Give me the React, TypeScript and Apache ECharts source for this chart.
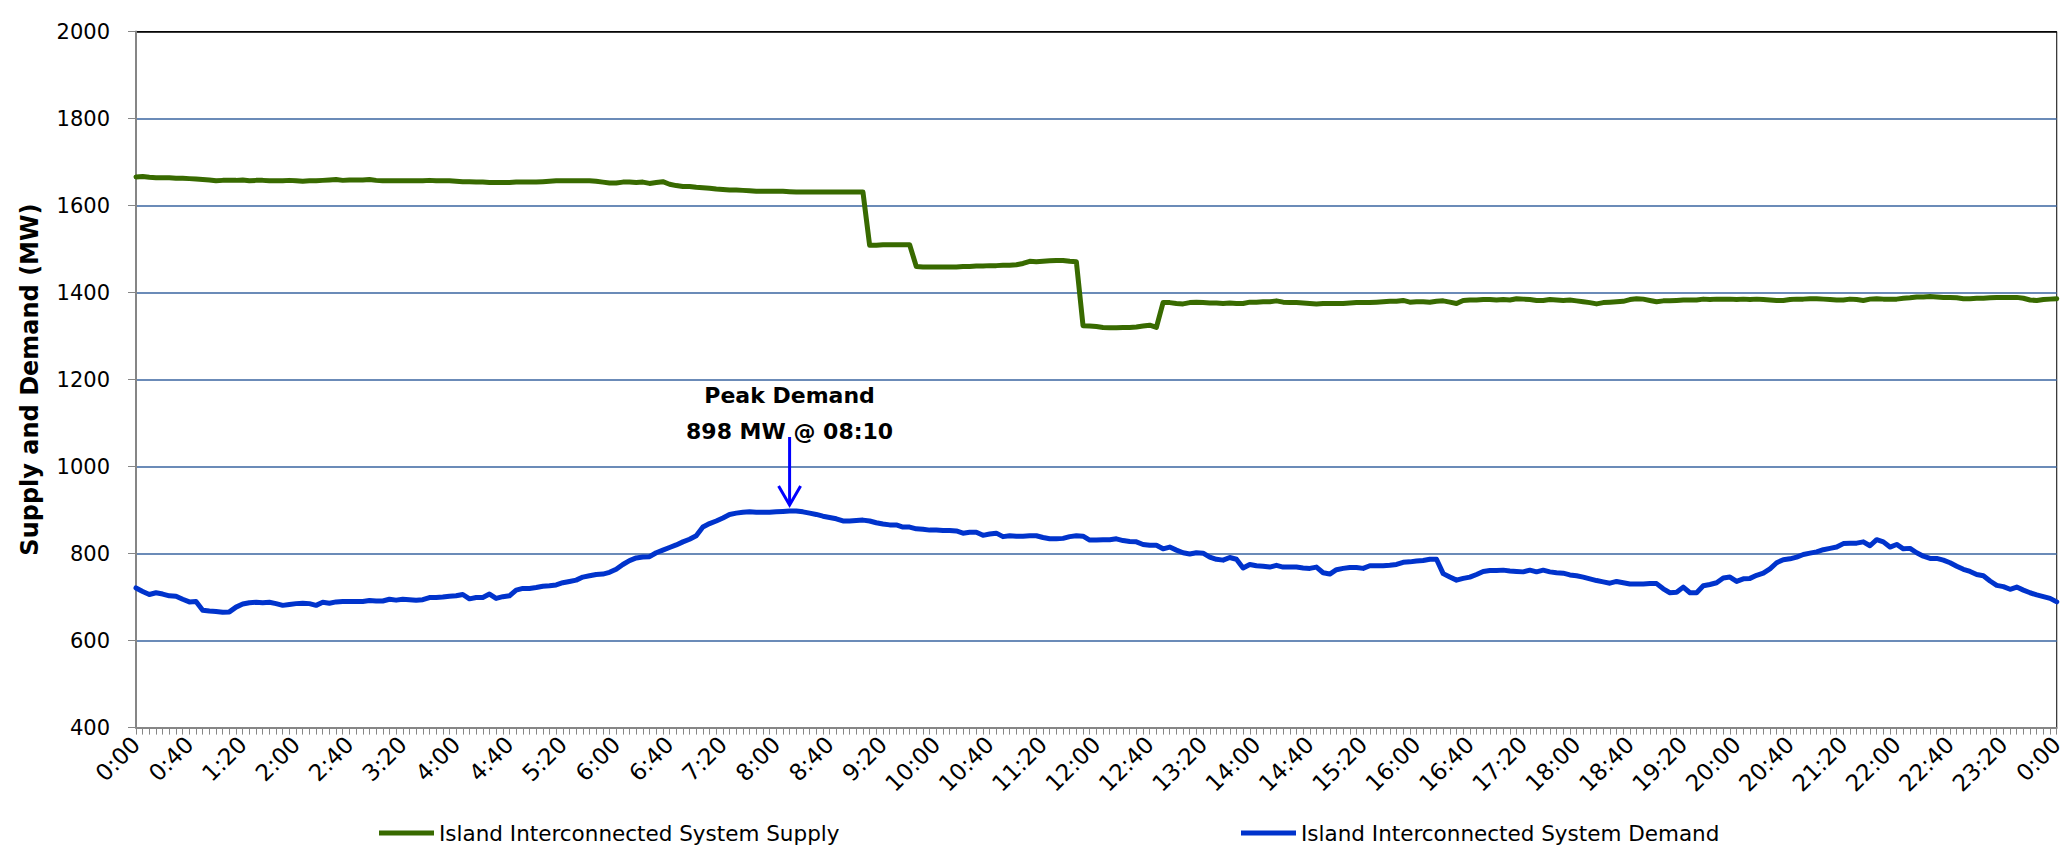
import React, { useEffect, useRef } from 'react';
import * as echarts from 'echarts';

// ---- categories: 5-minute intervals from 0:00 to next-day 0:00 ----
const timeLabels: string[] = [];
for (let m = 0; m <= 1440; m += 5) {
  const mm = m % 1440;
  timeLabels.push(`${Math.floor(mm / 60)}:${String(mm % 60).padStart(2, '0')}`);
}

const SUPPLY_NAME = 'Island Interconnected System Supply';
const DEMAND_NAME = 'Island Interconnected System Demand';

// ---- series values (MW), 12 values per hour ----
const supplyValues: number[] = [
  1666, 1667, 1665, 1664, 1664, 1664, 1663, 1663, 1662, 1661, 1660, 1659,
  1657, 1658, 1658, 1658, 1659, 1657, 1658, 1658, 1657, 1657, 1657, 1658,
  1657, 1656, 1657, 1657, 1658, 1659, 1660, 1658, 1659, 1659, 1659, 1660,
  1658, 1657, 1657, 1657, 1657, 1657, 1657, 1657, 1658, 1657, 1657, 1657,
  1656, 1655, 1655, 1654, 1654, 1653, 1653, 1653, 1653, 1654, 1654, 1654,
  1654, 1655, 1656, 1657, 1657, 1657, 1657, 1657, 1657, 1656, 1654, 1652,
  1652, 1654, 1654, 1653, 1654, 1651, 1653, 1655, 1649, 1646, 1644, 1644,
  1642, 1641, 1640, 1638, 1637, 1636, 1636, 1635, 1634, 1633, 1633, 1633,
  1633, 1633, 1632, 1631, 1631, 1631, 1631, 1631, 1631, 1631, 1631, 1631,
  1631, 1631, 1509, 1509, 1510, 1510, 1510, 1510, 1510, 1460, 1459, 1459,
  1459, 1459, 1459, 1459, 1460, 1460, 1461, 1461, 1462, 1462, 1463, 1463,
  1464, 1467, 1472, 1471, 1472, 1473, 1474, 1474, 1472, 1471, 1324, 1323,
  1322, 1320, 1319, 1319, 1320, 1320, 1321, 1323, 1325, 1320, 1377, 1377,
  1375, 1374, 1377, 1378, 1377, 1376, 1376, 1375, 1376, 1375, 1375, 1378,
  1378, 1379, 1379, 1381, 1378, 1377, 1377, 1376, 1375, 1374, 1375, 1375,
  1375, 1375, 1376, 1377, 1377, 1377, 1378, 1379, 1380, 1380, 1382, 1378,
  1379, 1379, 1378, 1380, 1381, 1378, 1375, 1382, 1383, 1383, 1384, 1384,
  1383, 1384, 1383, 1386, 1385, 1384, 1382, 1382, 1384, 1383, 1382, 1383,
  1381, 1379, 1377, 1374, 1377, 1378, 1379, 1380, 1384, 1386, 1385, 1382,
  1379, 1381, 1381, 1382, 1383, 1383, 1383, 1385, 1384, 1385, 1385, 1385,
  1384, 1385, 1384, 1385, 1384, 1383, 1382, 1382, 1384, 1385, 1385, 1386,
  1386, 1385, 1384, 1383, 1383, 1385, 1384, 1382, 1385, 1386, 1385, 1385,
  1385, 1387, 1388, 1390, 1390, 1391, 1390, 1389, 1389, 1388, 1386, 1386,
  1387, 1387, 1388, 1389, 1389, 1389, 1389, 1387, 1383, 1382, 1384, 1385,
  1386,
];

const demandValues: number[] = [
  721, 713, 706, 710, 707, 703, 702, 695, 689, 690, 670, 668,
  667, 665, 666, 677, 684, 687, 688, 687, 688, 685, 681, 683,
  685, 686, 685, 681, 688, 686, 689, 690, 690, 690, 690, 692,
  691, 691, 695, 693, 695, 694, 693, 694, 699, 699, 700, 702,
  703, 706, 696, 699, 699, 707, 697, 701, 703, 716, 720, 720,
  722, 725, 726, 728, 733, 736, 739, 746, 749, 752, 753, 757,
  764, 775, 784, 790, 792, 793, 802, 808, 814, 820, 827, 833,
  841, 861, 869, 875, 882, 890, 893, 895, 896, 895, 895, 895,
  896, 897, 898, 898, 896, 893, 890, 886, 883, 880, 875, 875,
  876, 877, 875, 871, 868, 866, 866, 861, 861, 857, 856, 854,
  854, 853, 853, 852, 847, 849, 849, 842, 845, 847, 839, 841,
  840, 840, 841, 841, 837, 834, 834, 835, 839, 841, 840, 831,
  831, 832, 832, 834, 830, 828, 827, 821, 819, 819, 811, 815,
  808, 802, 799, 802, 801, 792, 787, 785, 791, 787, 767, 775,
  772, 771, 769, 773, 769, 769, 769, 767, 766, 769, 756, 753,
  763, 766, 768, 768, 766, 772, 772, 772, 773, 775, 780, 781,
  783, 784, 787, 787, 754, 746, 739, 743, 746, 752, 759, 761,
  761, 762, 760, 759, 758, 762, 758, 762, 758, 756, 755, 751,
  749, 746, 742, 738, 735, 732, 736, 733, 730, 730, 730, 731,
  731, 719, 710, 711, 723, 710, 710, 726, 729, 733, 744, 746,
  736, 742, 743, 750, 755, 765, 779, 786, 788, 792, 798, 801,
  804, 809, 812, 815, 823, 824, 824, 827, 818, 832, 827, 815,
  821, 811, 812, 802, 794, 789, 789, 785, 779, 771, 764, 759,
  752, 749, 737, 727, 724, 718, 723, 716, 710, 705, 701, 697,
  689,
];

// ---- annotation ----
const peakIndex = 98; // 08:10
const peakValue = 898;
const peakTitle = 'Peak Demand';
const peakText = '898 MW @ 08:10';

// ---- y axis ----
const yMin = 400;
const yMax = 2000;
const yStep = 200;

const FONT = 'DejaVu Sans';
const SUPPLY_COLOR = '#386A00';
const DEMAND_COLOR = '#0033CC';
const GRID_COLOR = '#3A64A0';

export default function App() {
  const ref = useRef<HTMLDivElement>(null);

  useEffect(() => {
    if (!ref.current) return;
    const chart = echarts.init(ref.current, undefined, { renderer: 'svg' });

    const nLines = (yMax - yMin) / yStep + 1;
    const splitColors: string[] = [];
    for (let i = 0; i < nLines; i++) {
      splitColors.push(i === 0 ? '#888888' : i === nLines - 1 ? '#000000' : GRID_COLOR);
    }

    const legendCommon = {
      icon: 'rect',
      itemWidth: 55,
      itemHeight: 5,
      padding: 0,
      itemGap: 0,
      selectedMode: false,
      textStyle: { fontSize: 21.5, color: '#000', fontFamily: FONT },
    };

    chart.setOption({
      animation: false,
      backgroundColor: '#ffffff',
      grid: {
        left: 136,
        right: 4,
        top: 31.6,
        bottom: 121.4,
        show: true,
        borderColor: '#000',
        borderWidth: 1,
        backgroundColor: 'transparent',
      },
      xAxis: {
        type: 'category',
        data: timeLabels,
        boundaryGap: false,
        axisLine: { show: true, lineStyle: { color: '#868686', width: 2 } },
        axisTick: { show: true, interval: 0, length: 7, lineStyle: { color: '#868686', width: 1 } },
        axisLabel: {
          interval: 7,
          rotate: 45,
          margin: 13,
          fontSize: 23,
          color: '#000',
          fontFamily: FONT,
        },
        splitLine: { show: false },
      },
      yAxis: {
        type: 'value',
        min: yMin,
        max: yMax,
        interval: yStep,
        name: 'Supply and Demand (MW)',
        nameLocation: 'middle',
        nameGap: 94,
        nameTextStyle: { fontSize: 24, fontWeight: 'bold', fontFamily: FONT, color: '#000' },
        axisLine: { show: true, lineStyle: { color: '#868686', width: 2 } },
        axisTick: { show: true, length: 8, lineStyle: { color: '#868686', width: 1 } },
        axisLabel: {
          margin: 26,
          fontSize: 21,
          color: '#000',
          fontFamily: FONT,
          formatter: (v: number) => String(v),
        },
        splitLine: { show: true, lineStyle: { color: splitColors, width: 1.5 } },
      },
      legend: [
        { ...legendCommon, data: [{ name: SUPPLY_NAME }], left: 379, top: 822 },
        { ...legendCommon, data: [{ name: DEMAND_NAME }], left: 1241, top: 822 },
      ],
      series: [
        {
          name: SUPPLY_NAME,
          type: 'line',
          data: supplyValues,
          symbol: 'none',
          showSymbol: false,
          lineStyle: { color: SUPPLY_COLOR, width: 5, join: 'round', cap: 'round' },
          itemStyle: { color: SUPPLY_COLOR },
          z: 3,
        },
        {
          name: DEMAND_NAME,
          type: 'line',
          data: demandValues,
          symbol: 'none',
          showSymbol: false,
          lineStyle: { color: DEMAND_COLOR, width: 5, join: 'round', cap: 'round' },
          itemStyle: { color: DEMAND_COLOR },
          z: 3,
        },
      ],
    });

    const p = chart.convertToPixel({ xAxisIndex: 0, yAxisIndex: 0 }, [peakIndex, peakValue]) as number[];
    const px = p[0];
    const py = p[1];
    chart.setOption({
      graphic: [
        {
          type: 'line',
          shape: { x1: px, y1: py - 74, x2: px, y2: py - 8 },
          style: { stroke: '#0000FF', lineWidth: 3 },
          z: 10,
        },
        {
          type: 'polyline',
          shape: { points: [[px - 11, py - 25], [px, py - 6], [px + 11, py - 25]] },
          style: { stroke: '#0000FF', lineWidth: 3, fill: null },
          z: 10,
        },
        {
          type: 'text',
          x: px,
          y: py - 115,
          style: {
            text: peakTitle,
            font: `bold 22px "${FONT}"`,
            fill: '#000',
            align: 'center',
            verticalAlign: 'middle',
          },
          z: 10,
        },
        {
          type: 'text',
          x: px,
          y: py - 79,
          style: {
            text: peakText,
            font: `bold 22px "${FONT}"`,
            fill: '#000',
            align: 'center',
            verticalAlign: 'middle',
          },
          z: 10,
        },
      ],
    });

    return () => {
      chart.dispose();
    };
  }, []);

  return (
    <div
      ref={ref}
      style={{ position: 'absolute', left: 0, top: 0, width: 2067, height: 849, background: '#fff' }}
    />
  );
}
